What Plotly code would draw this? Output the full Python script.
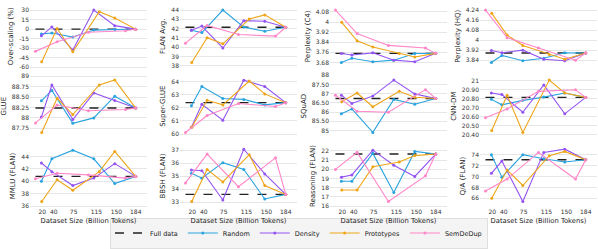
import plotly.graph_objects as go
from plotly.subplots import make_subplots

# ---------------- data ----------------
metrics = ["Over-scaling (%)", "FLAN Avg.", "Perplexity (C4)", "Perplexity (HQ)",
           "GLUE", "Super-GLUE", "SQuAD", "CNN-DM",
           "MMLU (FLAN)", "BBSH (FLAN)", "Reasoning (FLAN)", "Q/A (FLAN)"]

sizes_random = [18.4, 36.8, 73.6, 110.4, 147.2, 184]
sizes_density = [18.4, 36.8, 73.6, 110.4, 147.2, 184]
sizes_prototypes = [19, 46, 73.6, 120, 147.2, 184]
sizes_semdedup = [8, 46, 101, 166, 184]

x_tick_vals = [20, 40, 75, 115, 150, 184]

full_data = [0, 42.15, 3.752, 3.897, 88.236, 62.4, 86.74, 20.815, 40.8, 33.6, 21.65, 73.06]

random_vals = [
    [-7.5, -6, -12.5, -1.5, -0.5, 0],
    [41.82, 41.57, 44.0, 42.16, 41.71, 42.15],
    [3.68, 3.713, 3.685, 3.698, 3.751, 3.752],
    [3.822, 3.878, 3.835, 3.855, 3.899, 3.897],
    [88.41, 88.66, 87.87, 88.0, 88.52, 88.236],
    [62.16, 63.63, 62.72, 62.65, 62.23, 62.4],
    [85.91, 86.17, 84.9, 86.69, 86.43, 86.74],
    [20.793, 20.732, 20.782, 20.818, 20.864, 20.815],
    [40.0, 43.64, 45.04, 43.64, 39.64, 40.8],
    [35.22, 34.85, 36.04, 35.52, 33.25, 33.6],
    [18.69, 18.69, 21.72, 17.47, 21.93, 21.65],
    [74.0, 69.88, 74.0, 73.24, 72.65, 73.06],
]
density_vals = [
    [-10.5, 3.5, -33, 30, 5.5, 0],
    [41.82, 42.27, 39.91, 42.86, 42.79, 42.15],
    [3.751, 3.739, 3.756, 3.698, 3.685, 3.752],
    [3.917, 3.899, 3.92, 3.848, 3.835, 3.897],
    [88.02, 88.79, 87.96, 88.6, 88.42, 88.236],
    [60.52, 62.28, 61.06, 64.12, 63.63, 62.4],
    [86.92, 86.47, 86.87, 87.74, 86.99, 86.74],
    [20.864, 20.846, 20.65, 20.954, 20.632, 20.815],
    [42.96, 41.56, 39.32, 40.52, 42.86, 40.8],
    [35.47, 35.42, 33.17, 37.07, 35.17, 33.6],
    [19.14, 19.38, 22.07, 20.43, 19.21, 21.65],
    [70.59, 72.82, 65.41, 74.41, 75.0, 73.06],
]
prototypes_vals = [
    [-51.5, 1, -35.5, 27.5, 17.5, 0],
    [38.35, 41.02, 40.36, 43.03, 43.48, 42.15],
    [3.998, 3.851, 3.802, 3.751, 3.723, 3.752],
    [4.214, 4.04, 3.958, 3.886, 3.848, 3.897],
    [87.65, 88.47, 88.08, 88.79, 88.91, 88.236],
    [60.52, 62.58, 62.23, 64.05, 63.07, 62.4],
    [86.57, 87.04, 86.29, 87.13, 86.81, 86.74],
    [20.446, 20.839, 20.425, 21.007, 20.864, 20.815],
    [36.73, 40.26, 38.55, 41.56, 44.83, 40.8],
    [33.05, 35.52, 34.56, 36.65, 34.28, 33.6],
    [17.74, 17.74, 20.26, 20.78, 21.48, 21.65],
    [66.0, 71.18, 68.35, 73.82, 74.59, 73.06],
]
semdedup_vals = [
    [-35, -20, -5, -2.5, 0],
    [40.43, 42.34, 41.36, 41.19, 42.15],
    [4.095, 3.909, 3.815, 3.795, 3.752],
    [4.24, 4.02, 3.937, 3.84, 3.897],
    [87.88, 88.31, 88.17, 88.2, 88.236],
    [60.12, 61.42, 62.33, 62.11, 62.4],
    [86.92, 86.05, 85.99, 87.22, 86.74],
    [20.589, 20.686, 20.882, 20.9, 20.815],
    [40.42, 41.3, 41.04, 40.52, 40.8],
    [34.48, 36.7, 34.19, 36.41, 33.6],
    [19.98, 21.83, 16.49, 19.28, 21.65],
    [67.35, 69.53, 74.41, 69.53, 73.06],
]

y_tick_vals = [
    [30, 15, 0, -15, -30, -45, -60],
    [44, 43, 42, 41, 40, 39, 38],
    [4.08, 4.0, 3.92, 3.84, 3.76, 3.68],
    [4.24, 4.16, 4.08, 4.0, 3.92, 3.84],
    [89, 88.75, 88.5, 88.25, 88, 87.75],
    [64, 63, 62, 61, 60],
    [88, 87.5, 87, 86.5, 86, 85.5, 85],
    [21, 20.9, 20.8, 20.7, 20.6, 20.5, 20.4],
    [44, 42, 40, 38, 36],
    [37, 36, 35, 34, 33],
    [22, 21, 20, 19, 18, 17, 16],
    [74, 72, 70, 68, 66],
]
y_tick_text = [
    ["30", "15", "0", "-15", "-30", "-45", "-60"],
    ["44", "43", "42", "41", "40", "39", "38"],
    ["4.08", "4", "3.92", "3.84", "3.76", "3.68"],
    ["4.24", "4.16", "4.08", "4", "3.92", "3.84"],
    ["89", "88.75", "88.50", "88.25", "88", "87.75"],
    ["64", "63", "62", "61", "60"],
    ["88", "87.50", "87", "86.50", "86", "85.50", "85"],
    ["21", "20.90", "20.80", "20.70", "20.60", "20.50", "20.40"],
    ["44", "42", "40", "38", "36"],
    ["37", "36", "35", "34", "33"],
    ["22", "21", "20", "19", "18", "17", "16"],
    ["74", "72", "70", "68", "66"],
]

# ---------------- layout / style ----------------
W, H = 598, 249
FONT = "DejaVu Sans"
col_px = [(30 + 150 * c, 147 + 150 * c) for c in range(4)]
row_px = [(1, 68), (74, 140), (147, 212)]
y_ranges = [
    [-62.02, 39.61], [37.69, 44.66], [3.6316, 4.1437], [3.7733, 4.2887],
    [87.519, 89.046], [59.706, 64.564], [84.599, 88.052], [20.364, 21.0714],
    [35.792, 45.922], [32.605, 37.42], [15.86, 22.663], [64.353, 75.824],
]
x_range = [-1.6, 203.8]

methods = [
    ("Random", sizes_random, random_vals, "#2aa4df"),
    ("Density", sizes_density, density_vals, "#9454f2"),
    ("Prototypes", sizes_prototypes, prototypes_vals, "#eea519"),
    ("SemDeDup", sizes_semdedup, semdedup_vals, "#ff86c8"),
]

all_x = sizes_random + sizes_density + sizes_prototypes + sizes_semdedup
x_lo, x_hi = min(all_x), max(all_x)

fig = make_subplots(rows=3, cols=4)

for i, metric in enumerate(metrics):
    r, c = divmod(i, 4)
    fig.add_trace(go.Scatter(
        x=[x_lo, x_hi], y=[full_data[i], full_data[i]], mode="lines",
        line=dict(color="#222222", width=1.4, dash="dash"),
        name="Full data", legendgroup="full", showlegend=(i == 0),
        hoverinfo="skip"), row=r + 1, col=c + 1)
    for name, xs, vals, color in methods:
        fig.add_trace(go.Scatter(
            x=xs, y=vals[i], mode="lines+markers",
            line=dict(color=color, width=1.1),
            marker=dict(color=color, size=3),
            name=name, legendgroup=name, showlegend=(i == 0)),
            row=r + 1, col=c + 1)

for i in range(12):
    r, c = divmod(i, 4)
    idx = "" if i == 0 else str(i + 1)
    x0, x1 = col_px[c]
    t, b = row_px[r]
    fig.layout["xaxis" + idx].update(
        domain=[x0 / W, x1 / W], range=x_range,
        tickvals=x_tick_vals, showticklabels=(r == 2),
        showgrid=False, zeroline=False, showline=False, ticks="",
        tickfont=dict(size=6, color="#333333", family=FONT),
        title=dict(text="Dataset Size (Billion Tokens)" if r == 2 else "",
                   font=dict(size=6.8, color="#222222", family=FONT), standoff=3),
    )
    fig.layout["yaxis" + idx].update(
        domain=[1 - b / H, 1 - t / H], range=y_ranges[i],
        tickvals=y_tick_vals[i], ticktext=y_tick_text[i],
        showgrid=True, gridcolor="#e6e6e6", gridwidth=0.8,
        zeroline=False, showline=False, ticks="",
        tickfont=dict(size=6, color="#333333", family=FONT),
        title=dict(text=metrics[i], font=dict(size=7, color="#222222", family=FONT), standoff=4),
    )

fig.update_layout(
    width=W, height=H,
    margin=dict(l=0, r=0, t=0, b=0),
    paper_bgcolor="white", plot_bgcolor="white",
    font=dict(family=FONT, color="#222222"),
    showlegend=True,
    legend=dict(orientation="h", x=0.5, xanchor="center", y=1 - 239 / H, yanchor="middle",
                font=dict(size=6.5, family=FONT, color="#222222"),
                bgcolor="#f4f4f4", bordercolor="#d0d0d0", borderwidth=0.6,
                itemwidth=30, tracegroupgap=0),
)

fig.write_html("out.html", config={"displayModeBar": False},
               post_script="document.body.style.margin='0';")
